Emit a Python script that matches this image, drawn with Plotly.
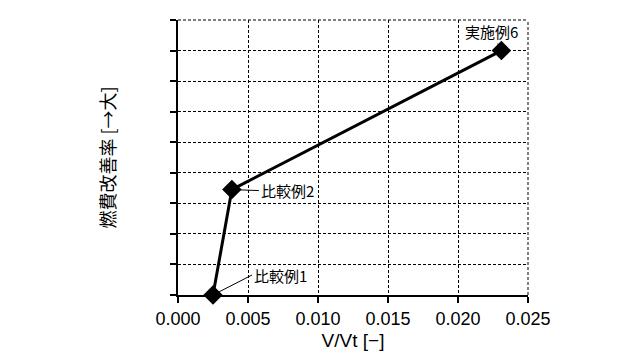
import plotly.graph_objects as go

# Data
labels = ["比較例1", "比較例2", "実施例6"]
vvt = [0.0025, 0.00385, 0.0231]
improvement = [0.0, 3.45, 8.0]

x_ticks = [0.000, 0.005, 0.010, 0.015, 0.020, 0.025]
y_ticks = list(range(0, 10))

FONT = "Liberation Sans, Arial, Noto Sans CJK JP"
JP = "Noto Sans CJK JP, Liberation Sans"

fig = go.Figure()
fig.add_trace(go.Scatter(
    x=vvt, y=improvement, mode="lines+markers",
    line=dict(color="black", width=3),
    marker=dict(symbol="diamond", size=15, color="black"),
    cliponaxis=False, showlegend=False,
))

# annotation offsets (pixels) for each label
offsets = {"比較例1": (39, -20, "left"), "比較例2": (27, 1, "left"), "実施例6": (-10, -19, "center")}
for lab, xv, yv in zip(labels, vvt, improvement):
    ax, ay, anc = offsets[lab]
    fig.add_annotation(
        x=xv, y=yv, text=lab, showarrow=True, arrowhead=0, arrowwidth=1,
        arrowcolor="black", ax=ax, ay=ay, xanchor=anc, yanchor="middle",
        standoff=4, font=dict(family=JP, size=15, color="black"),
    )

grid = dict(showgrid=True, gridcolor="black", gridwidth=1, griddash="3px,2px")
fig.update_xaxes(
    range=[0, 0.025], tickvals=x_ticks, tickformat=".3f",
    showline=True, linecolor="black", linewidth=2,
    ticks="outside", ticklen=6, tickwidth=2, tickcolor="black",
    tickfont=dict(family=FONT, size=18, color="black"),
    title=dict(text="V/Vt [−]", font=dict(family=FONT, size=19, color="black"), standoff=6),
    zeroline=False, **grid,
)
fig.update_yaxes(
    range=[0, 9], tickvals=y_ticks, showticklabels=False,
    showline=True, linecolor="black", linewidth=2,
    ticks="outside", ticklen=6, tickwidth=2, tickcolor="black",
    title=dict(text="燃費改善率 [→大]", font=dict(family=JP, size=18, color="black"), standoff=50),
    zeroline=False, **grid,
)
# dashed top and right frame edges (as in the reference)
for x0, y0, x1, y1 in [(0, 1, 1, 1), (1, 0, 1, 1)]:
    fig.add_shape(type="line", xref="paper", yref="paper", x0=x0, y0=y0, x1=x1, y1=y1,
                  line=dict(color="black", width=1, dash="3px,2px"), layer="below")
fig.update_layout(
    width=640, height=361,
    margin=dict(l=178, r=112, t=20, b=66),
    paper_bgcolor="white", plot_bgcolor="white",
)
fig.write_html("out.html")
